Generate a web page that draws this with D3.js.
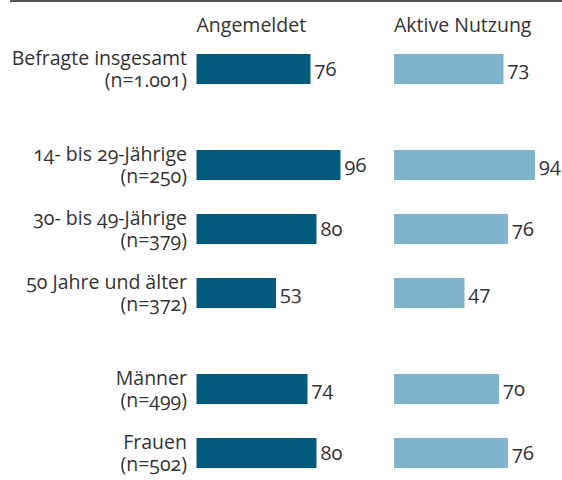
<!DOCTYPE html>
<html>
<head>
<meta charset="utf-8">
<script src="https://cdn.jsdelivr.net/npm/d3@7"></script>
<style>
  html, body { margin: 0; padding: 0; background: #fff; }
  svg text { font-family: "Open Sans", sans-serif; fill: #333; font-variant-numeric: oldstyle-nums; }
</style>
</head>
<body>
<div id="chart"></div>
<script>
const categories = ["Befragte insgesamt", "14- bis 29-Jährige", "30- bis 49-Jährige", "50 Jahre und älter", "Männer", "Frauen"];
const sampleSizes = ["(n=1.001)", "(n=250)", "(n=379)", "(n=372)", "(n=499)", "(n=502)"];
const groups = [0, 1, 1, 1, 2, 2];
const seriesNames = ["Angemeldet", "Aktive Nutzung"];
const angemeldet = [76, 96, 80, 53, 74, 80];
const aktiveNutzung = [73, 94, 76, 47, 70, 76];

const width = 562, height = 480;
const colors = ["#035a7d", "#80b4cd"];

const svg = d3.select("#chart").append("svg")
    .attr("width", width)
    .attr("height", height);

// top rule
svg.append("rect")
    .attr("x", 10).attr("y", 0)
    .attr("width", width - 10).attr("height", 2)
    .attr("fill", "#555");

// each group adds half a row of space
const rows = categories.map((c, i) => ({
  name: c,
  n: sampleSizes[i],
  slot: i + 0.5 * groups[i],
  values: [angemeldet[i], aktiveNutzung[i]]
}));

const y = d3.scaleLinear().domain([0, 1]).range([54, 118]);
const barH = 30;

const xs = [
  d3.scaleLinear().domain([0, 100]).range([196.5, 346.5]),
  d3.scaleLinear().domain([0, 100]).range([394, 544])
];

// series headers
svg.selectAll(".header")
    .data(seriesNames)
    .enter().append("text")
    .attr("class", "header")
    .attr("x", (d, i) => xs[i](0))
    .attr("y", 32)
    .attr("font-size", 19.5)
    .text(d => d);

// category labels
const labels = svg.selectAll(".label")
    .data(rows)
    .enter().append("text")
    .attr("class", "label")
    .attr("text-anchor", "end")
    .attr("font-size", 19.5);
labels.append("tspan")
    .attr("x", 187)
    .attr("y", d => y(d.slot) + 11)
    .text(d => d.name);
labels.append("tspan")
    .attr("x", 187)
    .attr("y", d => y(d.slot) + 33)
    .text(d => d.n);

seriesNames.forEach((s, si) => {
  const x = xs[si];
  svg.selectAll(".bar" + si)
      .data(rows)
      .enter().append("rect")
      .attr("x", x(0))
      .attr("y", d => y(d.slot))
      .attr("width", d => x(d.values[si]) - x(0))
      .attr("height", barH)
      .attr("fill", colors[si]);

  svg.selectAll(".val" + si)
      .data(rows)
      .enter().append("text")
      .attr("x", d => x(d.values[si]) + 4)
      .attr("y", d => y(d.slot) + 22)
      .attr("font-size", 20)
      .text(d => d.values[si]);
});
</script>
</body>
</html>
